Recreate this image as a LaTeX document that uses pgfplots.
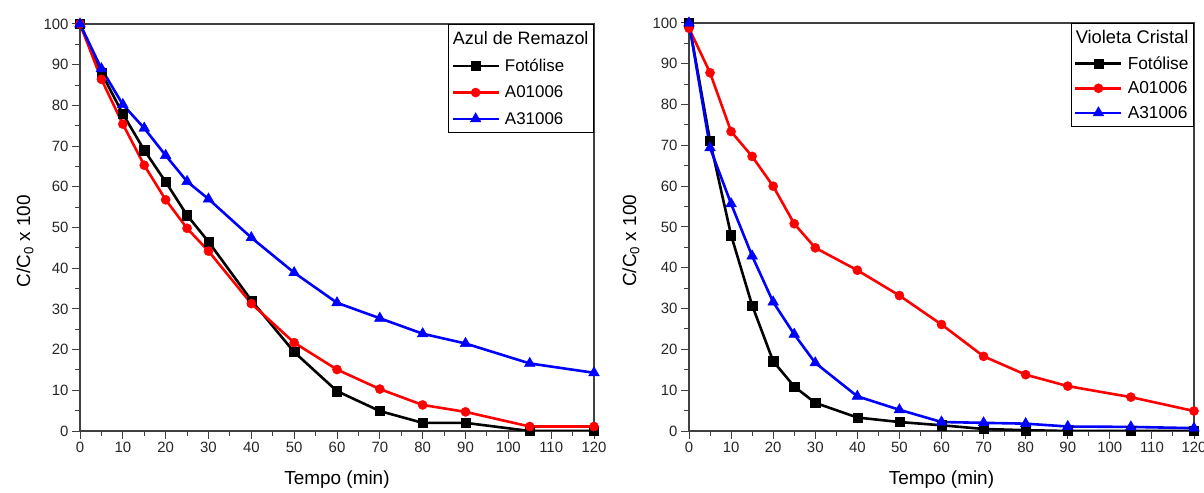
\documentclass[border=0pt]{standalone}
\usepackage{fontspec}
\setmainfont{Liberation Sans}
\usepackage{pgfplots}
\pgfplotsset{compat=1.18}
\pgfplotsset{
 myax/.style={
  scale only axis,
  xmin=0,xmax=120,ymin=0,ymax=100,
  xtick={0,10,...,120}, ytick={0,10,...,100},
  minor x tick num=1, minor y tick num=1,
  tick pos=left, tick align=outside,
  major tick length=8bp, minor tick length=5bp,
  axis line style={black!75, line width=1.2bp},
  every tick/.style={black!75, line width=1bp},
  tick label style={font=\fontsize{15}{18}\selectfont, text=black!85},
  /pgf/number format/assume math mode=true,
  label style={font=\fontsize{19}{22}\selectfont},
  xlabel={Tempo (min)},
  ylabel={C/C\textsubscript{0} x 100},
  x label style={at={(axis description cs:0.5,-0.12)}, anchor=center},
  legend cell align=left,
  legend image code/.code={\draw[mark repeat=2,mark phase=2,##1,line width=2.6bp] plot coordinates {(0bp,0bp)(23bp,0bp)(46bp,0bp)};},
  legend style={at={(1,1)}, anchor=north east, draw=black, line width=1bp, fill=white, column sep=3bp, inner xsep=3bp, inner ysep=5bp},
 },
 pblack/.style={black, line width=2.6bp, mark=square*, mark size=4.6bp, mark options={solid, line width=0.4bp}},
 pred/.style={red, line width=2.6bp, mark=*, mark size=4.6bp, mark options={solid, line width=0.4bp}},
 pblue/.style={blue, line width=2.6bp, mark=triangle*, mark size=6.2bp, mark options={solid, line width=0.4bp}},
}
\begin{document}
\begin{tikzpicture}
\path[use as bounding box] (0,0) rectangle (1204bp,493bp);
% Left: Azul de Remazol
\begin{axis}[myax, at={(80bp,62bp)}, anchor=south west, width=514bp, height=407bp,
  y label style={at={(axis description cs:-0.107,0.466)}, anchor=center},
  legend style={font=\fontsize{17}{20}\selectfont, row sep=9bp}]
\addlegendimage{empty legend}
\addlegendentry{\hspace*{-52bp}\fontsize{18}{20}\selectfont Azul de Remazol}
\addplot[pblack] coordinates {(0,100)(5,88)(10,77.9)(15,69)(20,61.2)(25,53)(30,46.5)(40,32.1)(50,19.4)(60,9.8)(70,4.9)(80,2)(90,2)(105,0)(120,0)};
\addlegendentry{Fotólise}
\addplot[pred] coordinates {(0,100)(5,86.4)(10,75.4)(15,65.3)(20,56.8)(25,49.8)(30,44.2)(40,31.3)(50,21.7)(60,15.1)(70,10.3)(80,6.4)(90,4.7)(105,1.1)(120,1.1)};
\addlegendentry{A01006}
\addplot[pblue] coordinates {(0,100)(5,89)(10,80.2)(15,74.4)(20,67.7)(25,61.3)(30,57)(40,47.5)(50,38.9)(60,31.5)(70,27.7)(80,23.9)(90,21.5)(105,16.6)(120,14.3)};
\addlegendentry{A31006}
\end{axis}
% Right: Violeta Cristal
\begin{axis}[myax, at={(689bp,62bp)}, anchor=south west, width=505bp, height=408bp,
  y label style={at={(axis description cs:-0.115,0.466)}, anchor=center},
  legend style={font=\fontsize{17.4}{20}\selectfont, row sep=7bp}]
\addlegendimage{empty legend}
\addlegendentry{\hspace*{-52bp}\fontsize{18.4}{20}\selectfont Violeta Cristal}
\addplot[pblack] coordinates {(0,100)(5,71.1)(10,48)(15,30.8)(20,17.1)(25,10.9)(30,6.9)(40,3.3)(50,2.2)(60,1.4)(70,0.5)(80,0.2)(90,0)(105,0)(120,0)};
\addlegendentry{Fotólise}
\addplot[pred] coordinates {(0,98.7)(5,87.8)(10,73.4)(15,67.3)(20,60)(25,50.8)(30,44.9)(40,39.4)(50,33.2)(60,26.1)(70,18.3)(80,13.8)(90,11)(105,8.3)(120,4.9)};
\addlegendentry{A01006}
\addplot[pblue] coordinates {(0,100)(5,69.4)(10,55.7)(15,42.9)(20,31.6)(25,23.7)(30,16.7)(40,8.5)(50,5.2)(60,2.2)(70,2)(80,1.8)(90,1.1)(105,1)(120,0.7)};
\addlegendentry{A31006}
\end{axis}
\end{tikzpicture}
\end{document}
